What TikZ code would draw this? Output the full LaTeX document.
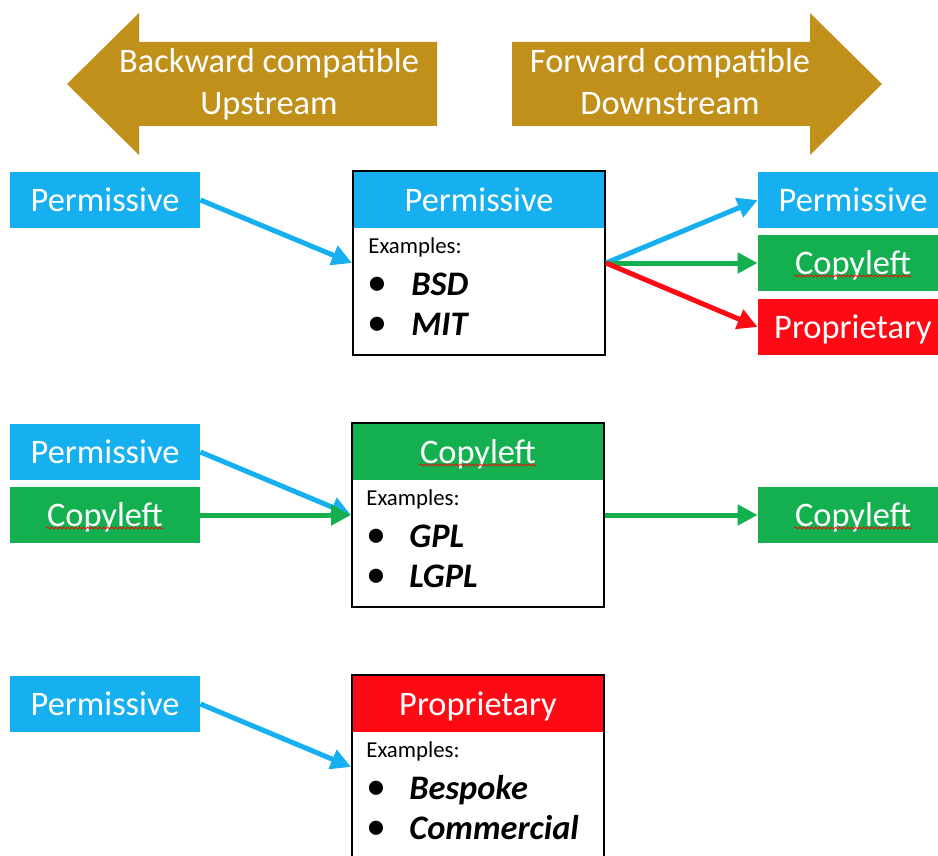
\documentclass[tikz,border=0pt]{standalone}
\usepackage{fontspec}
\setmainfont{Carlito}
\usetikzlibrary{arrows.meta,decorations.pathmorphing}

\definecolor{licblue}{RGB}{22,176,240}
\definecolor{licgreen}{RGB}{20,176,80}
\definecolor{licred}{RGB}{255,10,20}
\definecolor{licgold}{RGB}{192,144,26}
\def\lbl{\fontsize{17.2}{21}\selectfont}
\def\exfont{\fontsize{11.4}{14}\selectfont}

\begin{document}
\begin{tikzpicture}[x=0.5pt, y=-0.5pt,
    tag/.style={text=white, font=\lbl, minimum width=95pt, minimum height=28pt,
      inner sep=0pt, text height=13.8pt, text depth=2.7pt},
    head/.style={tag, minimum width=126pt},
    licbox/.style={draw=black, line width=1pt, minimum width=126pt,
      minimum height=92pt, inner sep=0pt},
    bigtext/.style={anchor=base, text=white, font=\lbl, inner sep=0pt},
    extext/.style={anchor=base west, inner sep=0pt, font=\exfont},
    dot/.style={anchor=base, inner sep=0pt, font=\fontsize{20}{21}\selectfont},
    item/.style={anchor=base west, inner sep=0pt, font=\lbl\bfseries\itshape},
    conn/.style={line width=2.5pt, -{Triangle[length=10pt,width=10pt]}},
    spellmark/.style={draw=red, line width=0.4pt, decorate,
      decoration={snake, segment length=2pt, amplitude=0.5pt}}]
  \clip (0,0) rectangle (938,856);

  \fill[licgold] (67,84) -- (139,13) -- (139,42) -- (437,42) -- (437,126)
    -- (139,126) -- (139,155) -- cycle;
  \fill[licgold] (512,42) -- (810,42) -- (810,13) -- (882,84) -- (810,155)
    -- (810,126) -- (512,126) -- cycle;
  \node[bigtext] (bk1) at (269,73) {Backward compatible};
  \node[bigtext] (bk2) at (269,115) {Upstream};
  \node[bigtext] (fw1) at (670,73) {Forward compatible};
  \node[bigtext] (fw2) at (670,115) {Downstream};

  % permissive
  \node[tag, fill=licblue] (pin1) at (105,200) {Permissive};
  \node[head, fill=licblue] (phead) at (479,200) {Permissive};
  \node[licbox] (pbox) at (479,263) {};
  \node[extext] (pex) at (368,253) {Examples:};
  \node[dot] (pdot1) at (377,295) {•};
  \node[item] (pit1) at (411,295) {BSD};
  \node[dot] (pdot2) at (377,335) {•};
  \node[item] (pit2) at (411,335) {MIT};
  \node[tag, fill=licblue] (pout1) at (853,200) {Permissive};
  \node[tag, fill=licgreen] (pout2) at (853,263) {Copyleft};
  \node[tag, fill=licred] (pout3) at (853,327) {Proprietary};
  \draw[conn, licblue] (pin1.east) -- (pbox.west);
  \draw[conn, licblue] (pbox.east) -- (pout1.west);
  \draw[conn, licgreen] (pbox.east) -- (pout2.west);
  \draw[conn, licred] (pbox.east) -- (pout3.west);

  % copyleft
  \node[tag, fill=licblue] (cin1) at (105,452) {Permissive};
  \node[tag, fill=licgreen] (cin2) at (105,515) {Copyleft};
  \node[head, fill=licgreen] (chead) at (478,452) {Copyleft};
  \node[licbox] (cbox) at (478,515) {};
  \node[extext] (cex) at (366,505) {Examples:};
  \node[dot] (cdot1) at (376,547) {•};
  \node[item] (cit1) at (409,547) {GPL};
  \node[dot] (cdot2) at (376,587) {•};
  \node[item] (cit2) at (409,587) {LGPL};
  \node[tag, fill=licgreen] (cout) at (853,515) {Copyleft};
  \draw[conn, licblue] (cin1.east) -- (cbox.west);
  \draw[conn, licgreen] (cin2.east) -- (cbox.west);
  \draw[conn, licgreen] (cbox.east) -- (cout.west);

  % proprietary
  \node[tag, fill=licblue] (rin1) at (105,704) {Permissive};
  \node[head, fill=licred] (rhead) at (478,704) {Proprietary};
  \node[licbox] (rbox) at (478,767) {};
  \node[extext] (rex) at (366,757) {Examples:};
  \node[dot] (rdot1) at (376,799) {•};
  \node[item] (rit1) at (409,799) {Bespoke};
  \node[dot] (rdot2) at (376,839) {•};
  \node[item] (rit2) at (409,839) {Commercial};
  \draw[conn, licblue] (rin1.east) -- (rbox.west);

  \draw[spellmark] ([shift={(-29.3pt,-6.5pt)}]pout2.center) -- ([shift={(29.3pt,-6.5pt)}]pout2.center);
  \draw[spellmark] ([shift={(-29.3pt,-6.5pt)}]cin2.center) -- ([shift={(29.3pt,-6.5pt)}]cin2.center);
  \draw[spellmark] ([shift={(-29.3pt,-6.5pt)}]chead.center) -- ([shift={(29.3pt,-6.5pt)}]chead.center);
  \draw[spellmark] ([shift={(-29.3pt,-6.5pt)}]cout.center) -- ([shift={(29.3pt,-6.5pt)}]cout.center);
\end{tikzpicture}
\end{document}
